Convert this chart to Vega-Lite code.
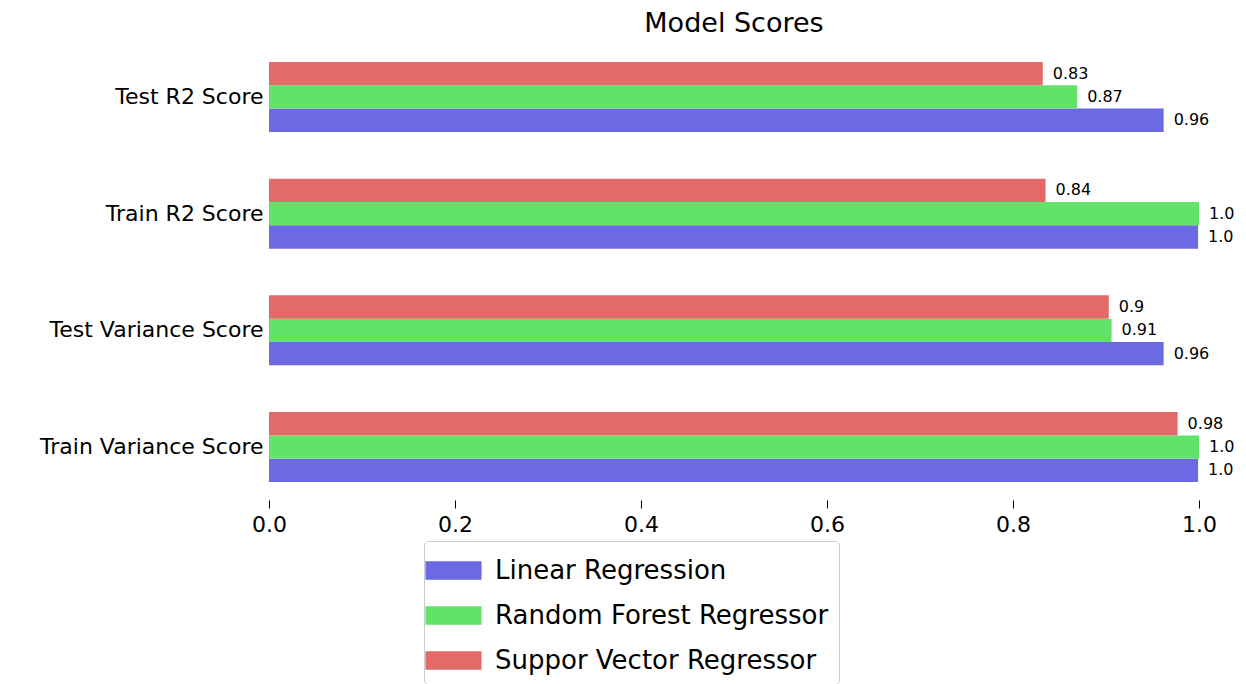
{
"$schema":"https://vega.github.io/schema/vega-lite/v6.json",
"autosize":{"type":"none"},
"padding":{"left":269,"top":52,"right":47,"bottom":192},
"width":930,"height":440,
"background":"white",
"title":{"text":"Model Scores","fontSize":27,"font":"DejaVu Sans","fontWeight":"normal","offset":14,"color":"black"},
"config":{"view":{"stroke":null},"font":"DejaVu Sans"},
"data":{"values":[
{"metric":"Test R2 Score","model":"Linear Regression","v":0.962,"t":"0.96"},
{"metric":"Test R2 Score","model":"Random Forest Regressor","v":0.869,"t":"0.87"},
{"metric":"Test R2 Score","model":"Suppor Vector Regressor","v":0.832,"t":"0.83"},
{"metric":"Train R2 Score","model":"Linear Regression","v":0.999,"t":"1.0"},
{"metric":"Train R2 Score","model":"Random Forest Regressor","v":1.0,"t":"1.0"},
{"metric":"Train R2 Score","model":"Suppor Vector Regressor","v":0.835,"t":"0.84"},
{"metric":"Test Variance Score","model":"Linear Regression","v":0.962,"t":"0.96"},
{"metric":"Test Variance Score","model":"Random Forest Regressor","v":0.906,"t":"0.91"},
{"metric":"Test Variance Score","model":"Suppor Vector Regressor","v":0.903,"t":"0.9"},
{"metric":"Train Variance Score","model":"Linear Regression","v":0.999,"t":"1.0"},
{"metric":"Train Variance Score","model":"Random Forest Regressor","v":1.0,"t":"1.0"},
{"metric":"Train Variance Score","model":"Suppor Vector Regressor","v":0.977,"t":"0.98"}
]},
"encoding":{
"y":{"field":"metric","type":"nominal","sort":["Test R2 Score","Train R2 Score","Test Variance Score","Train Variance Score"],"title":null,
"scale":{"paddingInner":0.4,"paddingOuter":0.085},
"axis":{"domain":false,"ticks":false,"labelFontSize":22,"labelColor":"black","labelPadding":6,"labelLimit":500}},
"yOffset":{"field":"model","type":"nominal","sort":["Suppor Vector Regressor","Random Forest Regressor","Linear Regression"]},
"x":{"field":"v","type":"quantitative","title":null,"scale":{"domain":[0,1],"nice":false},
"axis":{"values":[0,0.2,0.4,0.6,0.8,1.0],"format":".1f","domain":false,"grid":false,"labelFontSize":22,"labelColor":"black","tickColor":"black","tickSize":8,"offset":8,"labelPadding":6,"labelFlush":false,"labelOverlap":false}}
},
"layer":[
{"mark":{"type":"bar","cornerRadius":0},
"encoding":{"color":{"field":"model","type":"nominal","sort":["Linear Regression","Random Forest Regressor","Suppor Vector Regressor"],
"scale":{"domain":["Linear Regression","Random Forest Regressor","Suppor Vector Regressor"],"range":["#6b69e3","#63e26a","#e26a67"]},
"legend":{"title":null,"orient":"none","legendX":155,"legendY":489,"labelFontSize":26,"labelColor":"black","labelLimit":600,"symbolType":"M-1.5,-0.5H1.5V0.5H-1.5Z","symbolSize":1400,"symbolOpacity":1,"rowPadding":12,"padding":10,"strokeColor":"#cccccc","fillColor":"white","cornerRadius":4,"labelOffset":22,"offset":0}}}},
{"mark":{"type":"text","align":"left","dx":10,"fontSize":16,"color":"black"},
"encoding":{"text":{"field":"t"}}}
]
}
